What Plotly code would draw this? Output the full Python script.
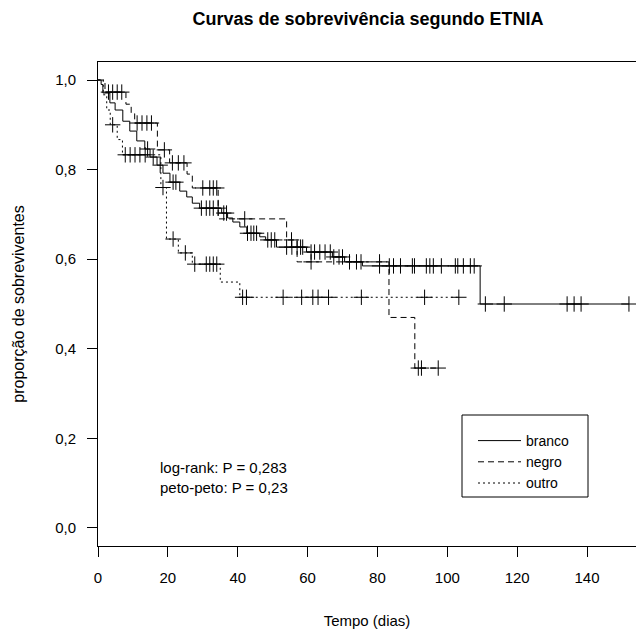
import numpy as np
import plotly.graph_objects as go

# ---- data ----
branco_t = [0, 0.9, 1.4, 3.4, 4.9, 7.1, 9.1, 11.1, 13.4, 14.9, 16.9, 18.6, 20.6, 23.4, 25.4, 27.0,
            29.1, 35.4, 37.1, 38.6, 40.6, 42.6, 46.3, 48.0, 51.1, 59.7, 67.1, 70.6, 75.7, 109.4]
branco_s = [1.0, 0.99, 0.971, 0.949, 0.933, 0.908, 0.886, 0.864, 0.846, 0.828, 0.81, 0.792, 0.772, 0.752,
            0.739, 0.725, 0.714, 0.703, 0.692, 0.683, 0.672, 0.658, 0.65, 0.643, 0.627, 0.616, 0.605,
            0.594, 0.585, 0.50]
branco_end = 152.0
branco_cens = [14.2, 15.8, 17.8, 21.5, 22.3, 29.6, 31, 32, 33, 34.4, 36, 36.8, 42.8, 43.8, 44.6, 45.4,
               48.6, 49.6, 50.6, 54, 55.5, 57, 58, 58.6, 61, 62, 63.5, 65, 66.5, 67.5, 69, 70, 72, 74,
               75.3, 80.6, 83.4, 84.6, 86.6, 90, 90.6, 94, 95, 96, 98.3, 102.3, 103, 104.6, 106.6, 107.7,
               110.9, 116.3, 134.3, 136.3, 138.3, 152]

negro_t = [0, 2, 8, 9.5, 10.5, 17, 20.5, 25.5, 27, 34.4, 54, 57, 83.3, 90.7]
negro_s = [1.0, 0.973, 0.946, 0.925, 0.904, 0.844, 0.815, 0.79, 0.759, 0.69, 0.643, 0.594, 0.47, 0.357]
negro_end = 97.4
negro_cens = [3, 4.2, 5.5, 6.8, 11.2, 12.6, 14, 15.3, 19, 21.3, 23, 24.6, 30, 32, 33, 34, 42, 55.4,
              61, 80.6, 91.7, 92.6, 97.4]

outro_t = [0, 1.5, 2.5, 3.5, 5.5, 7, 18, 19.6, 23, 27, 35, 40.6]
outro_s = [1.0, 0.967, 0.933, 0.90, 0.867, 0.833, 0.76, 0.645, 0.614, 0.589, 0.549, 0.515]
outro_end = 103.3
outro_cens = [4.2, 7.8, 9.2, 10.6, 12, 13.5, 18.6, 21.5, 25, 27.7, 31, 32, 33, 34, 41.4, 42.5, 53,
              58.3, 61.5, 63, 66, 75.4, 93.5, 103.3]

groups = ["branco", "negro", "outro"]
x_ticks = [0, 20, 40, 60, 80, 100, 120, 140]
y_ticks = [0.0, 0.2, 0.4, 0.6, 0.8, 1.0]
stats_text = ["log-rank: P = 0,283", "peto-peto: P = 0,23"]

FONT = "Liberation Sans, Arial, sans-serif"
dashes = {"branco": "solid", "negro": "6px,4px", "outro": "2px,3px"}

series = {
    "branco": (branco_t, branco_s, branco_end, branco_cens),
    "negro": (negro_t, negro_s, negro_end, negro_cens),
    "outro": (outro_t, outro_s, outro_end, outro_cens),
}

fig = go.Figure()
for g in groups:
    t, s, end, cens = series[g]
    xs = list(t) + [end]
    ys = list(s) + [s[-1]]
    fig.add_trace(go.Scatter(x=xs, y=ys, mode="lines", line_shape="hv", name=g,
                             line=dict(color="black", width=1, dash=dashes[g])))
for g in groups:
    t, s, end, cens = series[g]
    idx = np.searchsorted(np.array(t), np.array(cens), side="right") - 1
    cy = np.array(s)[idx]
    fig.add_trace(go.Scatter(x=cens, y=cy, mode="markers", showlegend=False, hoverinfo="skip",
                             marker=dict(symbol="cross-thin", size=11, color="black",
                                         line=dict(color="black", width=1))))

# plot area: 98..636 px horizontally, 62..546 px vertically
xr = [0, (636 - 98) / 3.493]
yr = [-0.0402, 1.0402]

fig.add_annotation(x=17.3, y=0.136, text=stats_text[0], showarrow=False, xanchor="left",
                   yanchor="middle", font=dict(family=FONT, size=15, color="black"))
fig.add_annotation(x=17.3, y=0.090, text=stats_text[1], showarrow=False, xanchor="left",
                   yanchor="middle", font=dict(family=FONT, size=15, color="black"))

# legend box
fig.add_shape(type="rect", xref="paper", yref="paper",
              x0=(462 - 98) / 538, x1=(588 - 98) / 538, y0=(546 - 497) / 484, y1=(546 - 415) / 484,
              line=dict(color="black", width=1), fillcolor="rgba(0,0,0,0)")

fig.update_layout(
    width=636, height=639,
    margin=dict(l=98, r=0, t=62, b=93),
    paper_bgcolor="white", plot_bgcolor="white",
    separators=",.",
    font=dict(family=FONT, size=15, color="black"),
    title=dict(text="<b>Curvas de sobrevivência segundo ETNIA</b>", x=(368) / 636, xanchor="center",
               y=1 - 19 / 639, yanchor="middle", xref="container", yref="container",
               font=dict(family=FONT, size=18, color="black")),
    showlegend=True,
    legend=dict(x=(473 - 98) / 538, y=(546 - 425) / 484, xanchor="left", yanchor="top",
                bgcolor="rgba(0,0,0,0)", borderwidth=0, itemwidth=43,
                font=dict(family=FONT, size=14, color="black")),
    xaxis=dict(range=xr, tickvals=x_ticks, ticks="outside", ticklen=10, tickcolor="black",
               showline=True, linecolor="black", linewidth=1, mirror=True, showgrid=False,
               zeroline=False, ticklabelstandoff=8,
               title=dict(text="Tempo (dias)", standoff=30, font=dict(family=FONT, size=15))),
    yaxis=dict(range=yr, tickvals=y_ticks, tickformat=".1f", ticks="outside", ticklen=10,
               tickcolor="black", showline=True, linecolor="black", linewidth=1, showgrid=False,
               zeroline=False, ticklabelstandoff=8,
               title=dict(text="proporção de sobreviventes", standoff=26, font=dict(family=FONT, size=16))),
)

fig.write_html("out.html")
